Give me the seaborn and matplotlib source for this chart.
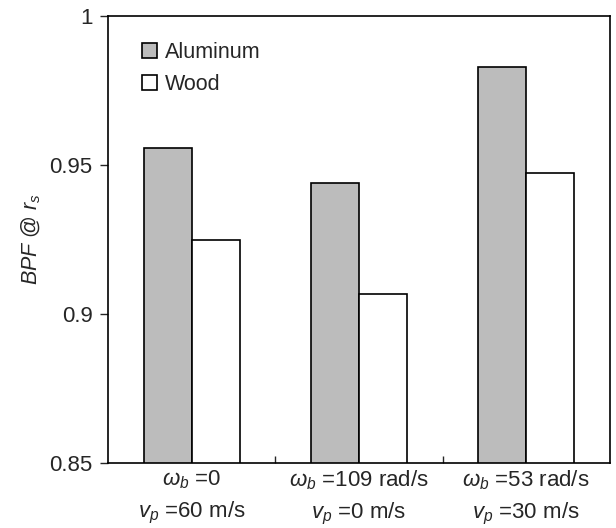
import pandas as pd
import seaborn as sns
import matplotlib.pyplot as plt
from matplotlib.ticker import FixedLocator

# values
conditions = ["$\\omega_b$ =0\n$v_p$ =60 m/s",
              "$\\omega_b$ =109 rad/s\n$v_p$ =0 m/s",
              "$\\omega_b$ =53 rad/s\n$v_p$ =30 m/s"]
materials = ["Aluminum", "Wood"]
aluminum = [0.9557, 0.9440, 0.9829]
wood = [0.9248, 0.9067, 0.9473]

sns.set_style("white")
plt.rcParams['font.family'] = ['Liberation Sans', 'DejaVu Sans']
plt.rcParams['mathtext.fontset'] = 'custom'
plt.rcParams['mathtext.rm'] = 'Liberation Sans'
plt.rcParams['mathtext.it'] = 'Liberation Sans:italic'
plt.rcParams['mathtext.bf'] = 'Liberation Sans:bold'

df = pd.DataFrame({
    "condition": conditions * 2,
    "material": [materials[0]] * 3 + [materials[1]] * 3,
    "BPF": aluminum + wood,
})

fig = plt.figure(figsize=(6.16, 5.28), dpi=100)
ax = fig.add_axes([0.1753, 0.1231, 0.8147, 0.8466])

sns.barplot(data=df, x="condition", y="BPF", hue="material",
            palette=["#bcbcbc", "white"], edgecolor="black", linewidth=1.2,
            width=0.575, ax=ax)

ax.set_ylim(0.85, 1.0)
ax.set_xlim(-0.5, 2.5)
ax.set_yticks([0.85, 0.9, 0.95, 1.0])
ax.set_yticklabels(["0.85", "0.9", "0.95", "1"])
ax.set_xlabel("")
ax.set_ylabel("$BPF$ @ $r_s$", fontsize=15.5, labelpad=5)

ax.tick_params(axis='y', direction='out', length=6, width=1, labelsize=16, left=True, pad=5)
ax.tick_params(axis='x', which='major', length=0, labelsize=16, pad=4)
ax.xaxis.set_minor_locator(FixedLocator([0.5, 1.5]))
ax.tick_params(axis='x', which='minor', direction='in', length=5, width=1, bottom=True)

for s in ax.spines.values():
    s.set_color('black')
    s.set_linewidth(1.2)

for lbl in ax.get_xticklabels():
    lbl.set_linespacing(1.5)

leg = ax.legend(loc='upper left', frameon=False, fontsize=15.5,
                handlelength=0.7, handleheight=0.7, handletextpad=0.35,
                labelspacing=0.5, bbox_to_anchor=(0.03, 0.985))
for h in leg.legend_handles:
    h.set_edgecolor('black')

fig.savefig("out.png", dpi=100)
